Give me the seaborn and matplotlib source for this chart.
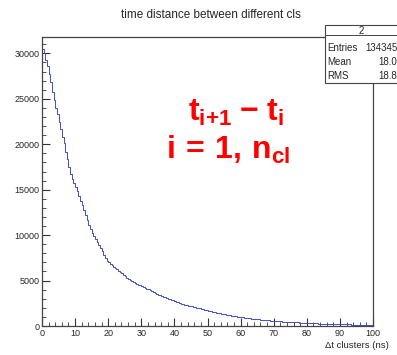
import numpy as np
import pandas as pd
import matplotlib
matplotlib.use("Agg")
import matplotlib.pyplot as plt
from matplotlib.patches import Rectangle
import seaborn as sns

# histogram contents, 0.5 ns bins from 0 to 100 ns
counts = [30500, 30000, 29300, 28600, 27700, 26900, 25800, 24900, 24000, 23300,
          22400, 21700, 20800, 20100, 19200, 18400, 17500, 16700, 16200, 15700,
          15300, 14800, 14300, 13800, 13300, 12800, 12200, 11700, 11100, 10700,
          10200, 9850, 9600, 9250, 8900, 8550, 8200, 7850, 7450, 7200,
          7000, 6850, 6700, 6500, 6380, 6220, 6080, 5920, 5780, 5630,
          5480, 5330, 5220, 5080, 4960, 4850, 4760, 4640, 4550, 4460,
          4390, 4300, 4200, 4100, 4020, 3930, 3800, 3700, 3600, 3510,
          3440, 3360, 3290, 3210, 3150, 3080, 3010, 2950, 2880, 2820,
          2740, 2670, 2610, 2550, 2460, 2400, 2350, 2310, 2250, 2210,
          2160, 2120, 2070, 2030, 1970, 1930, 1870, 1830, 1780, 1740,
          1670, 1630, 1600, 1560, 1520, 1480, 1440, 1400, 1370, 1330,
          1300, 1260, 1220, 1180, 1150, 1110, 1090, 1050, 1020, 980,
          960, 940, 910, 890, 870, 850, 820, 800, 780, 760,
          740, 720, 700, 680, 670, 650, 630, 610, 600, 580,
          570, 550, 540, 520, 510, 490, 490, 470, 460, 440,
          440, 420, 420, 400, 395, 385, 375, 365, 355, 345,
          335, 325, 315, 305, 305, 295, 285, 275, 275, 265,
          255, 245, 245, 235, 235, 225, 220, 210, 210, 200,
          200, 190, 190, 180, 180, 170, 170, 160, 163, 157,
          155, 145, 145, 135, 138, 132, 131, 125, 123, 117]
n_bins = len(counts)

title = "time distance between different cls"
xlabel = "\u0394t clusters (ns)"
stats_name = "2"
stats_rows = [("Entries", "134345"), ("Mean", "18.0"), ("RMS", "18.8")]

df = pd.DataFrame({"dt": (np.arange(n_bins) + 0.5) * 100 / n_bins, "n": counts})

sns.set_style("white")
plt.rcParams["font.family"] = ["Liberation Sans", "DejaVu Sans"]
plt.rcParams["mathtext.fontset"] = "custom"
plt.rcParams["mathtext.rm"] = "Liberation Sans:bold"
plt.rcParams["mathtext.it"] = "Liberation Sans:bold"
plt.rcParams["mathtext.bf"] = "Liberation Sans:bold"

fig = plt.figure(figsize=(3.97, 3.55), dpi=100)
ax = fig.add_axes([42 / 397, 1 - 326 / 355, (373 - 42) / 397, (326 - 37) / 355])

sns.histplot(data=df, x="dt", weights="n", bins=n_bins, binrange=(0, 100),
             element="step", fill=False, color="#4050c0", linewidth=0.7, ax=ax)

ax.set_xlim(0, 100)
ax.set_ylim(0, 31800)
ax.set_xlabel("")
ax.set_ylabel("")
ax.set_xticks(np.arange(0, 101, 10))
ax.set_xticks(np.arange(0, 101, 2), minor=True)
ax.set_yticks(np.arange(0, 30001, 5000))
ax.set_yticks(np.arange(0, 31001, 1000), minor=True)
ax.tick_params(which="both", direction="in", top=False, right=False,
               left=True, bottom=True, labelsize=6.5, color="#333333", pad=2)
ax.tick_params(which="major", length=6, width=0.8)
ax.tick_params(which="minor", length=3, width=0.6)
for s in ax.spines.values():
    s.set_color("#444444")
    s.set_linewidth(0.9)

fig.text(211 / 397, 1 - 15 / 355, title, ha="center", va="center", fontsize=8.5)
fig.text(389 / 397, 1 - 345 / 355, xlabel, ha="right", va="center", fontsize=6.8)

# stats box (cut at the figure edge)
bx0, by_top, by_bot = 325 / 397, 1 - 25 / 355, 1 - 83 / 355
fig.patches.append(Rectangle((bx0, by_bot), 0.3, by_top - by_bot, transform=fig.transFigure,
                             facecolor="white", edgecolor="#444444", linewidth=0.8, zorder=5))
fig.add_artist(plt.Line2D([bx0, 1.2], [1 - 35 / 355] * 2, transform=fig.transFigure,
                          color="#444444", linewidth=0.7, zorder=6))
fig.text(361 / 397, 1 - 30.5 / 355, stats_name, ha="center", va="center", fontsize=7, zorder=7)
for k, (name, val) in enumerate(stats_rows):
    yy = 1 - (48 + 14 * k) / 355
    fig.text(327 / 397, yy, name, ha="left", va="center", fontsize=7, zorder=7)
    fig.text(397.5 / 397, yy, val, ha="right", va="center", fontsize=7, zorder=7)

# red annotation
fig.text(236 / 397, 1 - 113 / 355, r"$\mathbf{t_{i{+}1}\;{-}\;t_i}$", color="red",
         ha="center", va="center", fontsize=23)
fig.text(228 / 397, 1 - 150 / 355, r"$\mathbf{i\,{=}\,1,\,n_{cl}}$", color="red",
         ha="center", va="center", fontsize=23)

fig.savefig("out.png", dpi=100)
